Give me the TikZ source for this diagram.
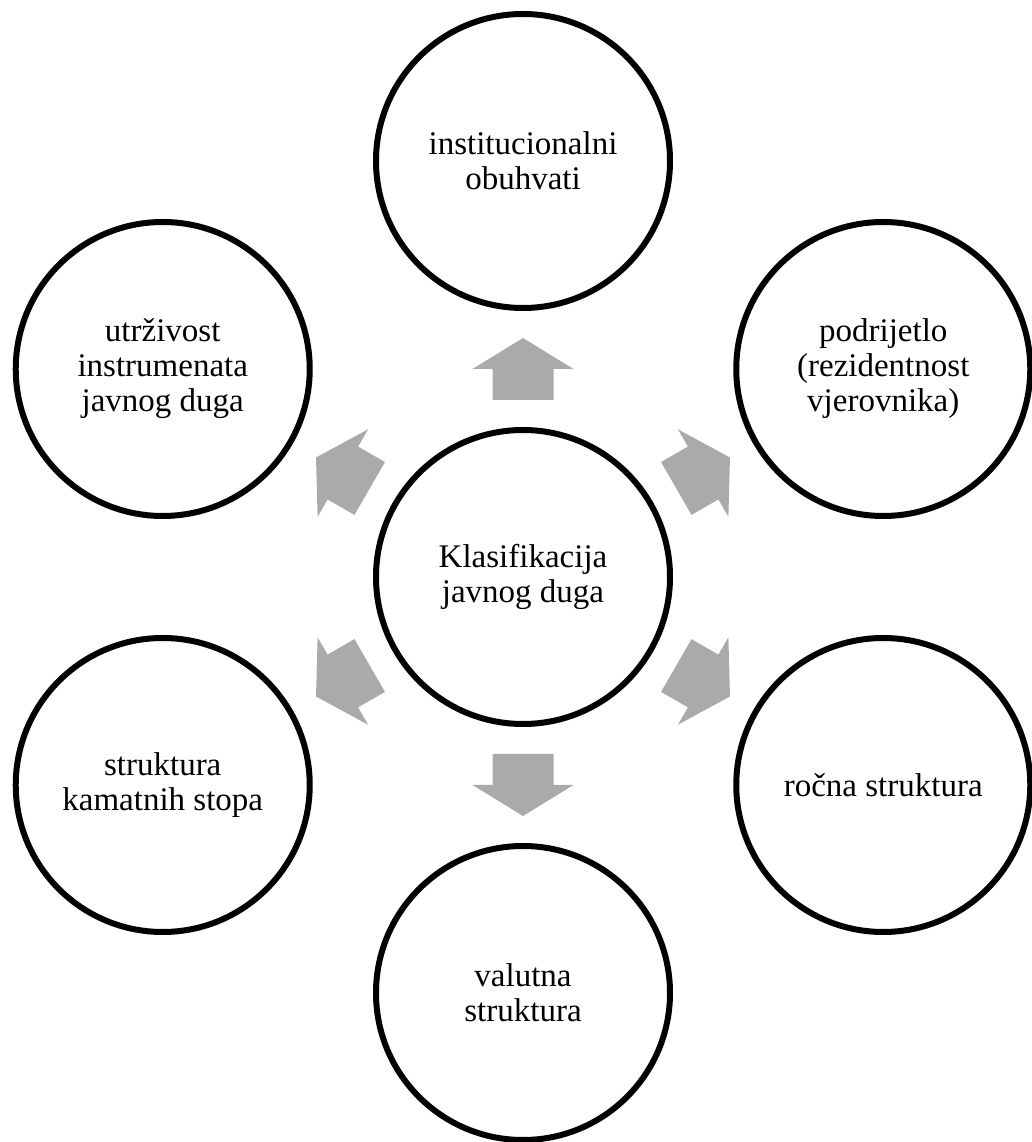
\documentclass[tikz,border=0pt]{standalone}
\usepackage{fontspec}
\setmainfont{Liberation Serif}
\usetikzlibrary{calc,positioning}
\definecolor{strelicasiva}{HTML}{AAAAAA}

\begin{document}
\begin{tikzpicture}[x=0.5pt,y=0.5pt,
        krug/.style={circle,draw=black,line width=3pt,minimum size=147pt,inner sep=0pt,
            align=center,font=\fontsize{16.5}{17.5}\selectfont},
        strelica/.style={fill=strelicasiva}]
                        \useasboundingbox (0,0) rectangle (1032,1142);
                        {

                        % Marking central circle
                        \node[krug] (klas) at (523,565) {Klasifikacija\\javnog duga};

                        % Marking outer circles
                        \node[krug] (inst) at ($(klas)+(90:416)$) {institucionalni\\obuhvati};
                        \node[krug] (podr) at ($(klas)+(30:416)$) {podrijetlo\\(rezidentnost\\vjerovnika)};
                        \node[krug] (rocn) at ($(klas)+(-30:416)$) {ročna struktura};
                        \node[krug] (valu) at ($(klas)+(-90:416)$) {valutna\\struktura};
                        \node[krug] (kama) at ($(klas)+(-150:416)$) {struktura\\kamatnih stopa};
                        \node[krug] (utrz) at ($(klas)+(150:416)$) {utrživost\\instrumenata\\javnog duga};

                        % Drawing block arrows from klas
                        \foreach \ime/\kut in {inst/90,podr/30,rocn/-30,valu/-90,kama/-150,utrz/150}
                        {
                        \fill[strelica,shift={($(klas)!0.5!(\ime)$)},rotate=\kut]
                            (-31,-30.5) -- (0,-30.5) -- (0,-50.5) -- (31,0) -- (0,50.5) -- (0,30.5) -- (-31,30.5) -- cycle;%
                        }
                        }
\end{tikzpicture}
\end{document}
